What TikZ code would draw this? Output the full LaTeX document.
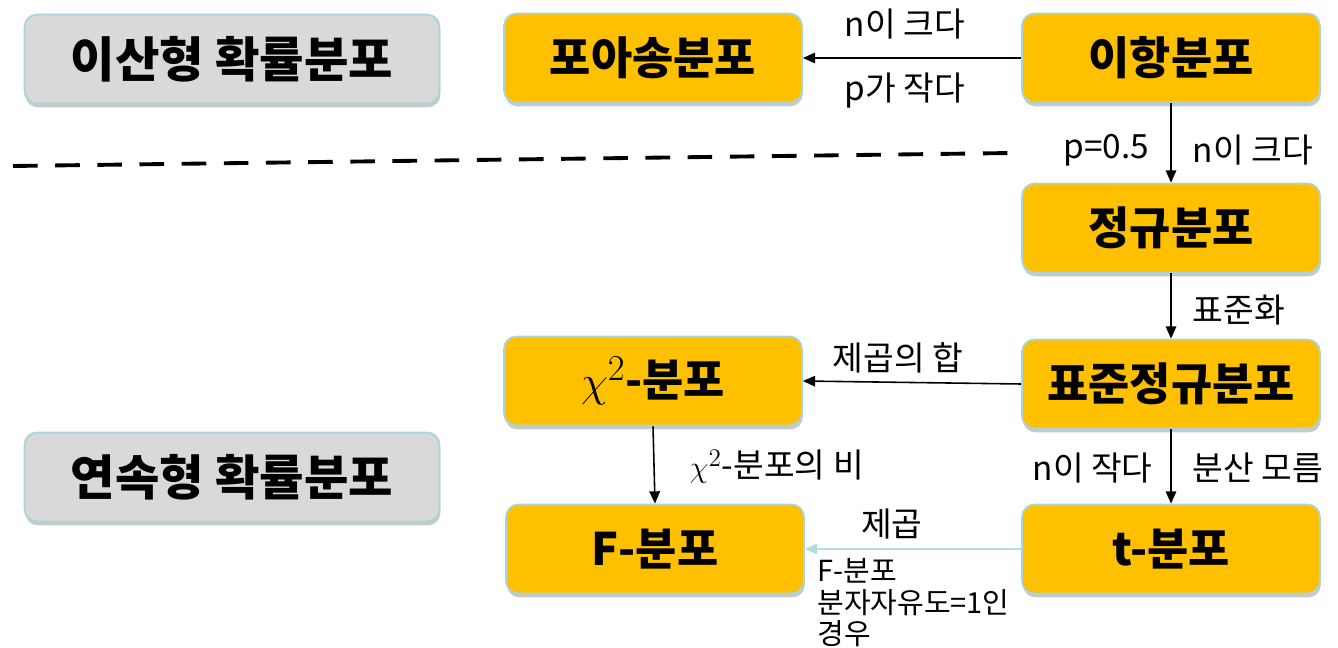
\documentclass[tikz,border=0pt]{standalone}
\usepackage{fontspec}
\setmainfont{Noto Sans CJK KR}
\usetikzlibrary{shadows,arrows.meta,calc}
\definecolor{boxorange}{HTML}{FFC000}
\definecolor{boxgray}{HTML}{D9D9D9}
\definecolor{boxedge}{HTML}{A8D4DC}
\definecolor{lightarrow}{HTML}{B4DDE3}
\tikzset{
  base/.style={rectangle, rounded corners=0.25cm, draw=boxedge, line width=1pt,
    minimum width=5.96cm, minimum height=1.78cm, inner sep=0pt,
    drop shadow={shadow xshift=0.5pt, shadow yshift=-2.2pt, opacity=0.35, fill=black!60}},
  distbox/.style={base, fill=boxorange, font=\fontsize{25.5}{30}\selectfont\bfseries},
  catbox/.style={base, fill=boxgray, minimum width=8.3cm, font=\fontsize{27.5}{32}\selectfont\bfseries},
  conn/.style={line width=0.9pt, -{Triangle[length=7pt,width=6pt]}},
  lbl/.style={font=\fontsize{19}{22}\selectfont, inner sep=0pt},
  small/.style={font=\fontsize{16.5}{18}\selectfont, inner sep=0pt, align=left}
}
\begin{document}
\begin{tikzpicture}[x=0.02cm,y=-0.02cm]
\fill[white] (0,0) rectangle (1338,648);
\useasboundingbox (0,0) rectangle (1338,648);

\node[catbox] (disc) at (232,59) {이산형 확률분포};
\node[catbox] (cont) at (232,477) {연속형 확률분포};

\node[distbox] (pois) at (653,58) {포아송분포};
\node[distbox] (binom) at (1171,58) {이항분포};
\node[distbox] (norm) at (1171,228) {정규분포};
\node[distbox] (snorm) at (1171,384) {표준정규분포};
\node[distbox] (chi) at (653,381) {{\fontsize{29}{32}\selectfont$\chi^2$}-분포};
\node[distbox] (fdist) at (655,549) {F-분포};
\node[distbox] (tdist) at (1171,549) {t-분포};

\coordinate (dashL) at (13,166);
\coordinate (dashR) at (1012,153);
\draw[line width=2.2pt, dash pattern=on 14pt off 10pt] (dashL) -- (dashR);

\draw[conn] (binom.west) -- node[lbl, above=10pt, xshift=-4pt]{n이 크다} node[lbl, below=8pt, xshift=-4pt]{p가 작다} (pois.east);
\draw[conn] (binom.south) -- node[lbl, left=12pt, yshift=-4pt]{p=0.5} node[lbl, right=12pt, yshift=-4pt]{n이 크다} (norm.north);
\draw[conn] (norm.south) -- node[lbl, right=12pt, yshift=-2pt]{표준화} (snorm.north);
\draw[conn] (snorm.west) -- node[lbl, above=5pt, xshift=-8pt]{제곱의 합} (chi.east);
\draw[conn] (snorm.south) -- node[lbl, left=10pt, yshift=-1pt]{n이 작다} node[lbl, right=12pt, yshift=-1pt]{분산 모름} (tdist.north);
\draw[conn] (chi.south) -- node[lbl, right=12pt, xshift=8pt, yshift=-1pt]{$\chi^2$-분포의 비} (fdist.north);
\draw[line width=1.1pt, draw=lightarrow, -{Triangle[length=7pt,width=6pt]}] (tdist.west) -- node[lbl, above=5pt, xshift=-12pt]{제곱} (fdist.east);

\node[small, anchor=north west] (note) at (817,558) {F-분포\\분자자유도=1인\\경우};
\end{tikzpicture}
\end{document}
